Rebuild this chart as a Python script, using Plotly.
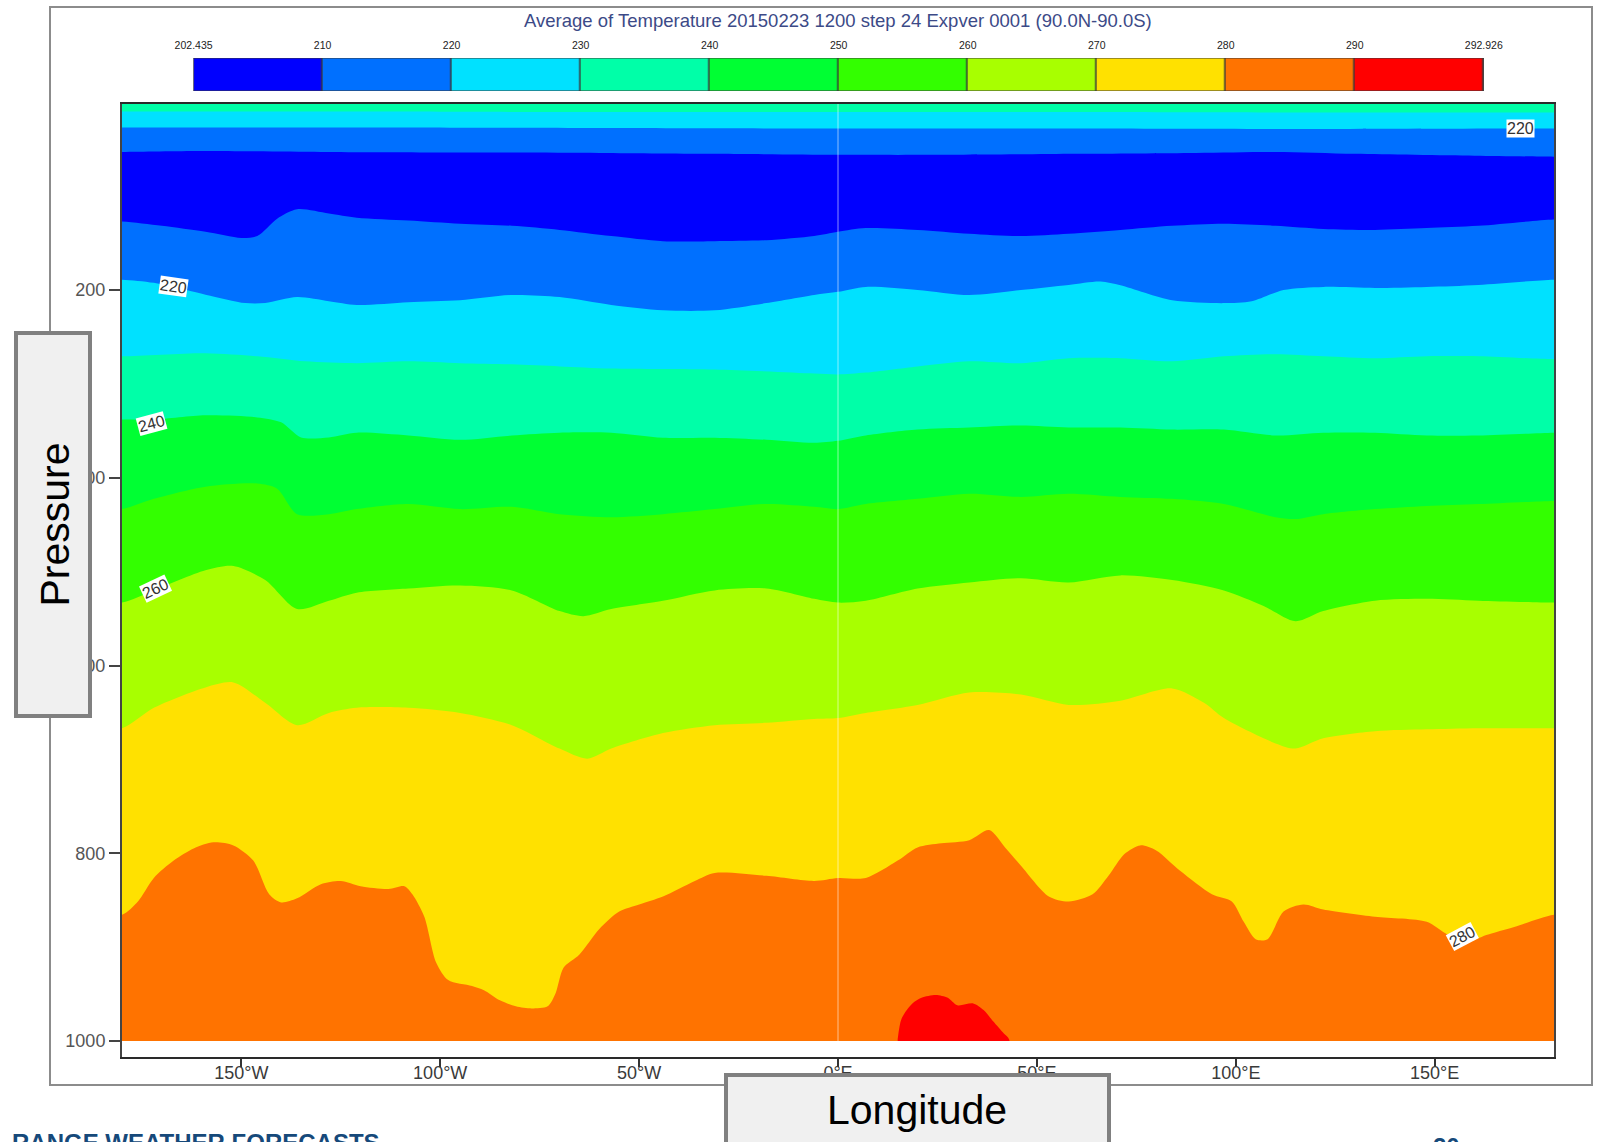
import plotly.graph_objects as go

# ---------------- data ----------------
# colour-bar levels (K), labels and band colours
LEVELS = [202.435, 210, 220, 230, 240, 250, 260, 270, 280, 290, 292.926]
LEVEL_LABELS = ["202.435", "210", "220", "230", "240", "250", "260", "270", "280", "290", "292.926"]
BAND_COLORS = ["#0000ff", "#0070ff", "#00e1ff", "#00ffa8", "#00ff33",
               "#33ff00", "#a8ff00", "#ffe100", "#ff7300", "#ff0000"]

# isotherm positions: longitude (deg, negative = W) and pressure (hPa)
# upper (stratospheric) isotherms
LON_TOP = [-180, -120, -60, 0, 60, 120, 180]
P_230_UP = [10, 10, 10.5, 10.5, 10.5, 11, 11]
P_220_UP = [27, 27, 27.5, 28, 28, 28.5, 28]
LON_210_UP = [-180, -160, -130, -100, -60, -30, 0, 30, 60, 90, 110, 130, 160, 180]
P_210_UP = [53, 52, 53, 53.5, 54, 55, 56, 56, 55, 54, 53, 55, 57, 58]

# lower (tropospheric) isotherms
LON_210 = [-180, -170, -159, -150, -146, -141, -136, -128, -121, -108, -95, -82, -70, -57, -44,
           -31, -18, -6, 0, 7, 20, 33, 46, 58, 71, 84, 97, 110, 122, 135, 148, 161, 180]
P_210 = [127, 131.6, 138, 144.6, 142.5, 124, 114, 118.6, 123, 126, 129.4, 131.6, 136, 142.5, 148,
         148, 147, 142.5, 138, 134, 136, 140, 142.5, 140, 136, 131.6, 129.4, 131.6, 135, 136, 134, 131.6, 125]

LON_220 = [-180, -172, -159, -149, -144, -136, -128, -121, -108, -95, -82, -70, -57, -44, -31, -18,
           -6, 0, 7, 20, 33, 46, 58, 66, 71, 84, 97, 104, 112, 122, 135, 148, 161, 180]
P_220 = [189, 192.4, 205, 214, 214, 207.6, 212, 216, 213, 211, 205.4, 207.6, 216, 221.7, 221.7, 214,
         205.4, 202, 196.7, 200, 205.4, 200, 194.6, 191, 195, 211, 214, 212, 200, 196.7, 197.8, 196.7, 194.6, 189]

LON_230 = [-180, -159, -146, -134, -121, -108, -95, -82, -70, -57, -31, -6, 0, 7, 20, 33, 46, 58,
           71, 84, 97, 110, 122, 135, 148, 161, 180]
P_230 = [270.6, 267.3, 270.6, 276, 278, 276, 278, 279.2, 281.4, 283.6, 284.7, 289, 290, 288, 281.4,
         276, 278, 272.7, 272.7, 276, 270.6, 268.4, 270.6, 272.7, 270.6, 270.6, 273.8]

LON_240 = [-180, -172, -159, -146, -140, -135, -128, -121, -108, -95, -82, -70, -57, -44, -31, -18,
           -6, 0, 7, 20, 33, 46, 58, 71, 84, 97, 110, 122, 135, 148, 161, 180]
P_240 = [338, 338, 333.5, 335.7, 341, 357, 357, 352, 355, 359.6, 355, 352, 352, 357.4, 357.4, 359.6,
         362.8, 360.7, 355, 348.7, 346.5, 344.4, 346.5, 346.5, 348.7, 348.7, 355, 352, 352, 355, 355, 352]

LON_250 = [-180, -172, -159, -146, -141, -136, -128, -121, -108, -95, -82, -70, -57, -44, -31, -18,
           -6, 0, 7, 20, 33, 46, 58, 71, 84, 97, 110, 115, 122, 135, 148, 161, 180]
P_250 = [433.4, 422.5, 409.5, 406.2, 411.7, 438.8, 438.8, 433.4, 428, 433.4, 431, 438.8, 442, 438.8,
         433.4, 428, 431, 433.4, 428, 422.5, 417, 420.4, 417, 420.4, 422.5, 428, 442, 444, 438.8,
         433.4, 430, 428, 424.7]

LON_260 = [-180, -172, -159, -152, -144, -136, -128, -121, -108, -95, -82, -70, -64, -57, -44, -31,
           -18, -6, 0, 7, 20, 33, 46, 58, 71, 84, 97, 107, 115, 122, 135, 148, 161, 180]
P_260 = [533, 520, 498.5, 494, 509, 539.8, 531, 522.4, 518, 514.8, 520, 542, 547.4, 539.8, 531, 520,
         518, 529, 533, 531, 518, 511.5, 507, 511.5, 504, 509, 520, 536.5, 552.8, 542, 531, 529, 531, 533]

LON_270 = [-180, -172, -159, -152, -144, -136, -128, -121, -108, -95, -82, -70, -63, -57, -44, -31,
           -18, -6, 0, 7, 20, 33, 46, 58, 71, 84, 92, 97, 110, 115, 122, 135, 148, 161, 180]
P_270 = [666.8, 645, 623.3, 618, 639.7, 663.5, 650.5, 645, 645, 650.5, 663.5, 688.5, 699.3, 688.5,
         672, 663.5, 661, 657, 656, 650.5, 642, 628.8, 631, 642, 637.5, 624.4, 639.7, 656, 683, 688.5,
         677.6, 670, 668, 666.8, 666.8]

LON_280 = [-180, -176, -172, -167, -162, -157, -152, -147, -143, -140, -136, -130, -125, -120, -113,
           -109, -107, -104, -101, -98, -92, -89, -85, -81, -77, -73, -71, -69, -65, -60, -55, -50,
           -44, -36, -31, -18, -6, 0, 7, 15, 20, 26, 33, 38, 42, 46, 53, 58, 64, 68, 72, 76, 80, 86,
           94, 99, 102, 105, 108, 112, 117, 122, 135, 148, 153, 158, 163, 170, 180]
P_280 = [865.4, 851.3, 826.3, 807.8, 794.9, 788.3, 791.6, 807.8, 843.7, 852.4, 848, 832.9, 829.5,
         835, 838, 835, 843.7, 867.6, 916.5, 935, 941.4, 945.8, 956.6, 963, 965.3, 963, 949, 921.9,
         907.8, 880.6, 862, 854.5, 846, 829.5, 820.9, 824, 829.5, 826.3, 826.3, 807.8, 793.8, 789.4,
         786, 775.3, 793.8, 813.3, 846, 851.3, 843.7, 824, 800.8, 791.6, 797, 818.7, 843.7, 851.3,
         873, 891.5, 891.5, 862, 854.5, 859.9, 867.6, 873, 886, 894.7, 887, 878.4, 865.4]

# warm (>290 K) pocket near the surface
LON_290 = [15, 16, 18.7, 21, 24.6, 27.6, 30, 34, 36.6, 39, 41.7, 43]
P_290 = [998, 976, 960, 954, 951, 954, 962, 960, 967, 979, 992, 998]

# axis ticks
X_TICKS = [-150, -100, -50, 0, 50, 100, 150]
X_TICK_TEXT = ["150°W", "100°W", "50°W", "0°E", "50°E", "100°E", "150°E"]
Y_TICKS = [200, 400, 600, 800, 1000]

# contour labels: text, longitude, pressure, angle
CONTOUR_LABELS = [("220", -167, 196, 8), ("240", -172.5, 342, -15), ("260", -171.5, 518, -25),
                  ("220", 171.5, 27.5, 0), ("280", 157, 889, -28)]

TITLE = "Average of Temperature 20150223 1200 step 24 Expver 0001 (90.0N-90.0S)"

# ---------------- layout helpers ----------------
W, H = 1598, 1142
ML, MR, MT, MB = 122, 44, 0, 85
PW, PH = W - ML - MR, H - MT - MB


def px(x):
    return (x - ML) / PW


def py(y):
    return (PH - y) / PH


P_SURF = 1000
Y_RANGE = [1017, 1.9]
X_EXT = 190
P_FILL = 1045
FONT = "Liberation Sans, Arial, sans-serif"

fig = go.Figure()

# background band (mint) above the highest isotherm
fig.add_trace(go.Scatter(x=[-X_EXT, X_EXT, X_EXT, -X_EXT], y=[-10, -10, P_FILL, P_FILL],
                         fill="toself", fillcolor=BAND_COLORS[3], mode="lines",
                         line=dict(width=0), hoverinfo="skip", showlegend=False))

boundaries = [
    (LON_TOP, P_230_UP, 2),
    (LON_TOP, P_220_UP, 1),
    (LON_210_UP, P_210_UP, 0),
    (LON_210, P_210, 1),
    (LON_220, P_220, 2),
    (LON_230, P_230, 3),
    (LON_240, P_240, 4),
    (LON_250, P_250, 5),
    (LON_260, P_260, 6),
    (LON_270, P_270, 7),
    (LON_280, P_280, 8),
]
for lons, ps, ci in boundaries:
    xs = [-X_EXT] + list(lons) + [X_EXT, X_EXT, -X_EXT]
    ys = [ps[0]] + list(ps) + [ps[-1], P_FILL, P_FILL]
    fig.add_trace(go.Scatter(x=xs, y=ys, fill="toself", fillcolor=BAND_COLORS[ci], mode="lines",
                             line=dict(width=0, shape="spline", smoothing=0.8),
                             hoverinfo="skip", showlegend=False))

fig.add_trace(go.Scatter(x=list(LON_290) + [LON_290[-1], LON_290[0]],
                         y=list(P_290) + [P_FILL, P_FILL], fill="toself",
                         fillcolor=BAND_COLORS[9], mode="lines",
                         line=dict(width=0, shape="spline", smoothing=0.8),
                         hoverinfo="skip", showlegend=False))

# colour bar (heatmap on its own axes)
n = len(BAND_COLORS)
fig.add_trace(go.Heatmap(z=[list(range(n))], x=[i + 0.5 for i in range(n)], y=[0],
                         colorscale=[[i / (n - 1), c] for i, c in enumerate(BAND_COLORS)],
                         zmin=0, zmax=n - 1, showscale=False, xgap=1.5,
                         xaxis="x2", yaxis="y2", hoverinfo="skip"))

shapes = []
# outer frame
shapes.append(dict(type="rect", xref="paper", yref="paper", x0=px(50), x1=px(1592), y0=py(1085),
                   y1=py(7), line=dict(color="#8c8c8c", width=2), layer="below"))
# colour-bar separators/border
shapes.append(dict(type="rect", xref="x2", yref="y2", x0=0, x1=n, y0=-0.5, y1=0.5,
                   fillcolor="#3a3a3a", line=dict(color="#3a3a3a", width=1), layer="below"))
shapes.append(dict(type="rect", xref="x2", yref="y2", x0=0, x1=n, y0=-0.5, y1=0.5,
                   line=dict(color="#3a3a3a", width=1), layer="above"))
# white strip below the surface level
shapes.append(dict(type="rect", xref="x", yref="y", x0=-180, x1=180, y0=P_SURF, y1=Y_RANGE[0],
                   fillcolor="white", line=dict(width=0), layer="above"))
# faint seam at 0 deg
shapes.append(dict(type="line", xref="x", yref="y", x0=0, x1=0, y0=Y_RANGE[1], y1=P_SURF,
                   line=dict(color="rgba(255,255,255,0.55)", width=1), layer="above"))
# axis-title boxes
shapes.append(dict(type="rect", xref="paper", yref="paper", x0=px(16), x1=px(90), y0=py(716),
                   y1=py(333), fillcolor="#f0f0f0", line=dict(color="#808080", width=4), layer="above"))
shapes.append(dict(type="rect", xref="paper", yref="paper", x0=px(726), x1=px(1109), y0=py(1170),
                   y1=py(1075), fillcolor="#f0f0f0", line=dict(color="#808080", width=4), layer="above"))


def note(x, y, text, size, color, angle=0, xanchor="center"):
    return dict(x=x, y=y, xref="paper", yref="paper", text=text, showarrow=False,
                textangle=angle, xanchor=xanchor, yanchor="middle",
                font=dict(family=FONT, size=size, color=color))


annotations = []
for txt, lon, p, ang in CONTOUR_LABELS:
    annotations.append(dict(x=lon, y=p, xref="x", yref="y", text=txt, showarrow=False,
                            textangle=ang, bgcolor="white", borderpad=0,
                            xanchor="center", yanchor="middle",
                            font=dict(family=FONT, size=16, color="#333333")))
annotations.append(note(px(838), py(20.5), TITLE, 18.5, "#3c4a87"))
annotations.append(note(px(54), py(524.5), "Pressure", 41, "black", angle=-90))
annotations.append(note(px(917), py(1110), "Longitude", 41, "black"))
annotations.append(note(px(10), py(1142), "<b>RANGE WEATHER FORECASTS</b>", 24, "#16497a",
                        xanchor="left"))
annotations.append(note(px(1446), py(1146), "<b>20</b>", 24, "#16497a"))

fig.update_layout(
    width=W, height=H, margin=dict(l=ML, r=MR, t=MT, b=MB),
    paper_bgcolor="white", plot_bgcolor="white",
    showlegend=False,
    xaxis=dict(range=[-180, 180], tickvals=X_TICKS, ticktext=X_TICK_TEXT, showgrid=False,
               zeroline=False, showline=True, linecolor="#2a2a2a", linewidth=2, mirror=True,
               ticks="outside", ticklen=8, tickwidth=1.5, tickcolor="#333333",
               ticklabelstandoff=-10,
               tickfont=dict(family=FONT, size=18, color="#3a3a3a"), domain=[0, 1], anchor="y"),
    yaxis=dict(range=Y_RANGE, tickvals=Y_TICKS, showgrid=False, zeroline=False, showline=True,
               linecolor="#444444", linewidth=2, mirror=True, ticks="outside", ticklen=11,
               tickwidth=1.5, tickcolor="#444444",
               tickfont=dict(family=FONT, size=18, color="#555555"),
               domain=[0, py(104)], anchor="x"),
    xaxis2=dict(range=[0, n], domain=[px(193.6), px(1483.8)], anchor="y2", side="top",
                tickvals=list(range(n + 1)), ticktext=LEVEL_LABELS, showgrid=False, zeroline=False,
                showline=False, ticks="", ticklabelstandoff=6,
                tickfont=dict(family=FONT, size=10.5, color="#222222")),
    yaxis2=dict(range=[-0.5, 0.5], domain=[py(91), py(58)], anchor="x2", visible=False),
    shapes=shapes, annotations=annotations,
)

fig.write_html("out.html")
